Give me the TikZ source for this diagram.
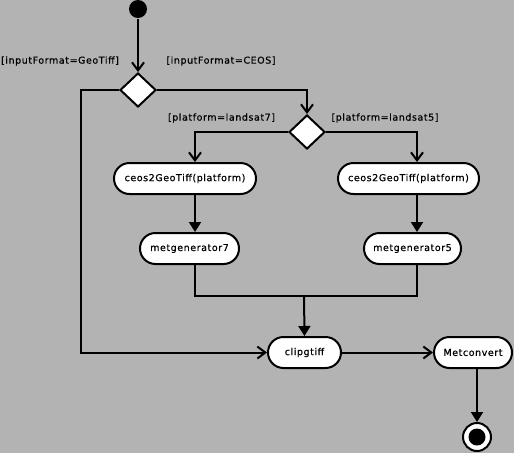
\documentclass[tikz,border=0pt]{standalone}
\usepackage{fontspec}
\setmainfont{DejaVu Sans}[LetterSpace=6,FakeBold=0.6]
\usetikzlibrary{arrows.meta,shapes.geometric}
\definecolor{bggray}{RGB}{179,179,179}

\newcommand{\actnode}[4]{%
 \node [act,minimum width={#3}] ({#1}) at ({#2}) {#4};%
}
\newcommand{\choice}[2]{%
 \node [decide] ({#1}) at ({#2}) {};%
}
\newcommand{\guard}[3]{%
 \node [guardtext] ({#1}) at ({#2}) {#3};%
}

\begin{document}
\begin{tikzpicture}[x=1pt,y=-1pt,line width=2pt,
  every node/.style={font=\fontsize{9.5}{11}\selectfont},
  act/.style={rectangle,rounded corners=15.5pt,draw,fill=white,minimum height=31pt,inner xsep=4pt},
  decide/.style={diamond,draw,fill=white,minimum width=36pt,minimum height=34pt,inner sep=0pt},
  guardtext/.style={inner sep=0pt},
  flow/.style={-{Straight Barb[length=8pt,width=12pt]}},
  fflow/.style={-{Triangle[length=10pt,width=12pt]}}]
  \fill [bggray] (0,0) rectangle (514,453);
  \useasboundingbox (0,0) rectangle (514,453);
  \node [circle,fill=black,minimum size=18pt,inner sep=0pt] (start) at (138,9) {};
  \choice{d1}{138,90};
  \choice{d2}{307,132};
  \actnode{ceosL}{185,178.5}{142pt}{ceos2GeoTiff(platform)};
  \actnode{ceosR}{408.5,178.5}{141pt}{ceos2GeoTiff(platform)};
  \actnode{metL}{189.5,248.5}{99pt}{metgenerator7};
  \actnode{metR}{412.5,248.5}{97pt}{metgenerator5};
  \actnode{clip}{304.5,352.5}{73pt}{clipgtiff};
  \actnode{meta}{473,352.5}{78pt}{Metconvert};
  \node [circle,draw,fill=white,minimum size=28pt,inner sep=0pt] (finish) at (477,437) {};
  \node [circle,fill=black,minimum size=17pt,inner sep=0pt] (finishdot) at (finish) {};
  \guard{gGeo}{60,61}{[inputFormat=GeoTiff]};
  \guard{gCeos}{221,61}{[inputFormat=CEOS]};
  \guard{gL7}{221.5,118}{[platform=landsat7]};
  \guard{gL5}{385,118}{[platform=landsat5]};
  \coordinate (colL) at (195,0);
  \coordinate (colR) at (417,0);
  \coordinate (colE) at (477,0);
  \coordinate (merge) at (304,296);
  \coordinate (skip) at (81,352.5);
  \draw [flow] (start) -- (d1);
  \draw [flow] (d1.east) -| (d2.north);
  \draw [flow] (d1.west) -| (skip) -- (clip.west);
  \draw [flow] (d2.west) -| (colL |- ceosL.north);
  \draw [flow] (d2.east) -| (colR |- ceosR.north);
  \draw [fflow] (colL |- ceosL.south) -- (colL |- metL.north);
  \draw [fflow] (colR |- ceosR.south) -- (colR |- metR.north);
  \draw (colL |- metL.south) |- (merge) -| (colR |- metR.south);
  \draw [fflow] (merge) -- (clip.north);
  \draw [flow] (clip) -- (meta);
  \draw [fflow] (colE |- meta.south) -- (finish);
\end{tikzpicture}
\end{document}
